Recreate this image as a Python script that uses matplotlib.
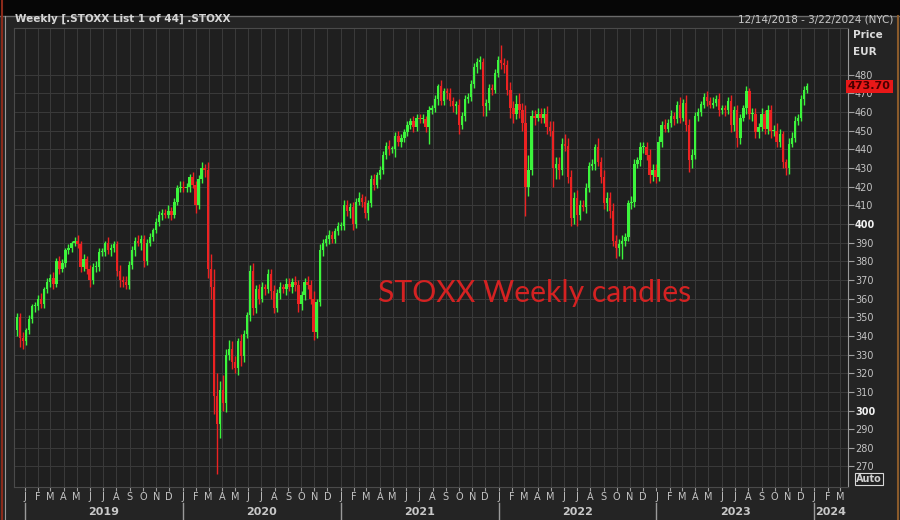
import numpy as np
import pandas as pd
import matplotlib
matplotlib.use('Agg')
import matplotlib.pyplot as plt
import matplotlib.dates as mdates
from matplotlib.transforms import blended_transform_factory
from matplotlib.patches import Rectangle
from matplotlib.lines import Line2D

# weekly closes, Dec 14 2018 .. Dec 15 2023
close_2019 = [350, 339, 337, 343, 349, 356, 356, 360, 357, 365, 369, 371, 368, 380, 376, 379, 386, 387, 390, 391,
              389, 377, 381, 376, 370, 377, 377, 385, 385, 390, 386, 387, 389, 375, 370, 369, 367, 378, 386, 391,
              390, 392, 380, 390, 393, 397, 401, 405, 406, 405, 407, 405, 412, 419, 420]
close_2020 = [419, 420, 425, 421, 410, 424, 430, 429, 376, 366, 308, 293, 311, 304, 330, 333, 326, 323, 337, 329,
              341, 351, 375, 355, 365, 360, 366, 365, 373, 364, 355, 363, 366, 365, 368, 366, 369, 367, 357, 362,
              369, 367, 360, 342, 358, 386, 390, 392, 394, 392, 396, 399, 399]
close_2021 = [410, 407, 409, 400, 412, 414, 412, 406, 411, 424, 421, 426, 429, 437, 442, 440, 440, 447, 444, 446,
              449, 453, 455, 452, 457, 456, 456, 452, 461, 462, 467, 474, 466, 471, 470, 466, 463, 464, 453, 458,
              467, 468, 475, 484, 487, 487, 463, 465, 473, 472, 481, 488]
close_2022 = [486, 485, 472, 462, 459, 464, 461, 454, 420, 429, 458, 457, 459, 457, 459, 452, 450, 430, 432, 429,
              443, 442, 425, 403, 414, 405, 410, 409, 419, 431, 432, 441, 433, 425, 411, 414, 407, 391, 387, 389,
              391, 393, 411, 412, 432, 434, 441, 441, 437, 426, 429, 425]
close_2023 = [444, 453, 451, 454, 458, 456, 464, 457, 465, 453, 434, 437, 458, 460, 464, 468, 466, 464, 465, 467,
              461, 462, 461, 466, 453, 461, 446, 457, 462, 471, 459, 459, 449, 452, 459, 451, 461, 450, 450, 444,
              448, 433, 430, 443, 446, 455, 457, 467, 472, 473.7]

# wick lengths above / below the body
upper_2019 = [2,2,3,1,2,1,2,2,3,1, 2,2,3,2,3,2,1,2,1,2, 3,2,3,2,2,2,3,2,2,1, 3,2,2,2,3,2,3,2,2,2, 3,2,2,2,2,1,2,2,2,2, 3,2,2,2,3]
lower_2019 = [3,5,4,2,2,2,3,2,2,2, 2,3,3,2,3,2,2,2,2,2, 2,3,2,3,4,2,3,2,2,2, 2,3,2,3,4,3,2,2,2,3, 2,4,3,2,2,2,2,2,3,2, 2,3,2,2,2]
upper_2020 = [3,2,2,3,2,2,3,2,4,8, 10,12,5,8,3,5,4,3,2,4, 2,2,3,4,2,3,3,2,3,3, 3,2,3,2,3,3,2,3,3,2, 2,3,3,4,2,3,2,2,3,2, 2,2,2]
lower_2020 = [2,2,3,2,4,2,2,4,5,6, 10,27,8,4,5,3,4,3,4,5, 3,2,3,4,3,3,2,3,2,4, 3,2,3,2,3,2,3,3,4,3, 3,2,3,4,3,2,3,2,3,2, 2,2,2]
upper_2021 = [3,3,2,3,2,3,2,3,2,2, 3,2,2,2,2,3,2,2,3,2, 2,2,2,3,2,2,3,2,2,2, 2,1,3,2,2,3,2,2,3,2, 2,2,2,2,2,3,2,2,2,2, 2,2]
lower_2021 = [2,3,4,3,2,2,3,3,4,2, 3,2,2,2,2,3,2,4,2,3, 2,2,2,3,2,2,2,3,9,2, 2,3,2,2,3,3,3,4,5,2, 3,2,2,2,3,4,5,5,4,3, 2,2]
upper_2022 = [8,3,3,4,4,5,6,4,10,8, 3,3,3,3,3,4,3,5,4,4, 3,5,4,4,3,4,3,3,3,2, 3,2,5,3,4,3,3,4,3,3, 3,2,2,3,3,2,3,3,3,3, 3,3]
lower_2022 = [3,4,3,5,5,3,4,4,16,5, 3,4,2,3,3,4,3,10,6,5, 3,3,3,4,3,6,3,2,3,2, 2,3,2,3,3,4,4,3,5,4, 8,3,2,3,3,2,3,3,3,4, 3,3]
upper_2023 = [3,2,3,2,3,2,2,4,2,4, 3,3,2,2,2,2,3,2,3,2, 3,2,2,2,3,2,3,2,2,3, 2,3,3,2,3,2,3,3,3,4, 3,2,2,3,3,3,2,2,2,2]
lower_2023 = [2,3,2,2,2,3,2,3,2,3, 6,4,2,3,2,2,3,2,2,2, 3,2,3,2,4,3,5,3,2,3, 3,4,3,3,2,3,3,4,3,3, 3,3,4,3,2,2,2,2,3,2]

first_open = 343
last_price = '473.70'
month_letters = ['J', 'F', 'M', 'A', 'M', 'J', 'J', 'A', 'S', 'O', 'N', 'D']
years = ['2019', '2020', '2021', '2022', '2023', '2024']

closes = np.array(close_2019 + close_2020 + close_2021 + close_2022 + close_2023, dtype=float)
upper = np.array(upper_2019 + upper_2020 + upper_2021 + upper_2022 + upper_2023, dtype=float)
lower = np.array(lower_2019 + lower_2020 + lower_2021 + lower_2022 + lower_2023, dtype=float)
assert len(closes) == len(upper) == len(lower)

opens = np.concatenate([[first_open], closes[:-1]])
top = np.maximum(opens, closes)
bot = np.minimum(opens, closes)
highs = top + upper
lows = bot - lower
weeks = pd.date_range('2018-12-14', periods=len(closes), freq='7D')
xd = mdates.date2num(weeks)

W, H = 900, 520
fig = plt.figure(figsize=(9, 5.2), dpi=100, facecolor='#242424')

# top black band and window borders
fig.patches.append(Rectangle((0, 1 - 15 / H), 1, 15 / H, transform=fig.transFigure, color='#060606', zorder=0))
fig.add_artist(Line2D([0, 1], [1 - 15.5 / H, 1 - 15.5 / H], transform=fig.transFigure, color='#6a6a6a', lw=1))
fig.add_artist(Line2D([1.5 / W, 1.5 / W], [0, 1], transform=fig.transFigure, color='#8a2a1a', lw=1.5))
fig.add_artist(Line2D([5 / W, 5 / W], [0, 1 - 16 / H], transform=fig.transFigure, color='#9a9a9a', lw=0.8))
fig.add_artist(Line2D([897.5 / W, 897.5 / W], [0, 1 - 16 / H], transform=fig.transFigure, color='#8a5a2a', lw=1.5))

fig.text(15 / W, 1 - 19 / H, 'Weekly [.STOXX List 1 of 44] .STOXX', color='#d6d6d6', fontsize=7.5,
         fontweight='bold', va='center', ha='left')
fig.text(893 / W, 1 - 19 / H, '12/14/2018 - 3/22/2024 (NYC)', color='#c8c8c8', fontsize=7.5,
         va='center', ha='right')

ax = fig.add_axes([14 / W, 33 / H, 834 / W, 459 / H])
ax.set_facecolor('#1f1f1f')

up = closes >= opens
green, red = '#3cf53c', '#ec2222'
colors = np.where(up, green, red)
ax.vlines(xd, lows, highs, colors=colors, lw=1.0, zorder=3)
ax.bar(xd, np.maximum(top - bot, 0.6), bottom=bot, width=5.4, color=colors, lw=0, zorder=4)

ax.set_xlim(mdates.date2num(pd.Timestamp('2018-12-07')), mdates.date2num(pd.Timestamp('2024-03-19')))
ax.set_ylim(259, 505)

# grid: monthly verticals, every 10 points horizontally
months = pd.date_range('2019-01-01', '2024-03-01', freq='MS')
ax.set_xticks(mdates.date2num(months))
ax.set_xticklabels([month_letters[m.month - 1] for m in months])
ax.set_yticks(np.arange(270, 481, 10))
ax.grid(True, color='#3a3a3a', lw=0.7, zorder=0)
ax.set_axisbelow(True)

ax.yaxis.tick_right()
ax.tick_params(axis='y', direction='out', length=4, width=0.8, color='#a0a0a0', labelsize=7,
               labelcolor='#c4c4c4', pad=1)
ax.tick_params(axis='x', direction='out', length=3, width=0.8, color='#a0a0a0', labelsize=7,
               labelcolor='#c4c4c4', pad=0.5)
for lab in ax.get_yticklabels():
    lab.set_fontfamily('DejaVu Sans')
    if lab.get_text() in ('300', '400'):
        lab.set_fontweight('bold')
        lab.set_color('#f0f0f0')

for side in ('top', 'left', 'bottom'):
    ax.spines[side].set_color('#4a4a4a')
    ax.spines[side].set_linewidth(0.8)
ax.spines['right'].set_color('#9a9a9a')
ax.spines['right'].set_linewidth(0.8)

# year row under the months
trans = blended_transform_factory(ax.transData, fig.transFigure)
for i, yr in enumerate(years):
    start = mdates.date2num(pd.Timestamp(f'{yr}-01-01'))
    fig.add_artist(Line2D([start, start], [0, 17 / H], transform=trans, color='#9a9a9a', lw=1))
    if yr == '2024':
        ax.text(start + 2, 8 / H, yr, transform=trans, color='#c8c8c8', fontsize=8,
                fontweight='bold', ha='left', va='center')
    else:
        mid = mdates.date2num(pd.Timestamp(f'{yr}-07-02'))
        ax.text(mid, 8 / H, yr, transform=trans, color='#c8c8c8', fontsize=8,
                fontweight='bold', ha='center', va='center')

# right axis header, last price tag, auto box
fig.text(853 / W, 1 - 35 / H, 'Price', color='#dcdcdc', fontsize=7.5, fontweight='bold', va='center')
fig.text(853 / W, 1 - 52 / H, 'EUR', color='#dcdcdc', fontsize=7.5, fontweight='bold', va='center')
ax.text(1.0, closes[-1], last_price, transform=blended_transform_factory(ax.transAxes, ax.transData),
        color='#4a0000', fontsize=8, fontweight='bold', va='center', ha='left', zorder=6,
        bbox=dict(boxstyle='square,pad=0.15', fc='#e81818', ec='none'), clip_on=False)
fig.text(869 / W, 1 - 479 / H, 'Auto', color='#d0d0d0', fontsize=7, fontweight='bold', va='center', ha='center',
         bbox=dict(boxstyle='square,pad=0.15', fc='#202020', ec='#d8d8d8', lw=0.8))

fig.text(378 / W, 1 - 293 / H, 'STOXX Weekly candles', color='#d42222', fontsize=21.7,
         family='Lato', va='center', ha='left')

fig.savefig('out.png', dpi=100, facecolor=fig.get_facecolor())
